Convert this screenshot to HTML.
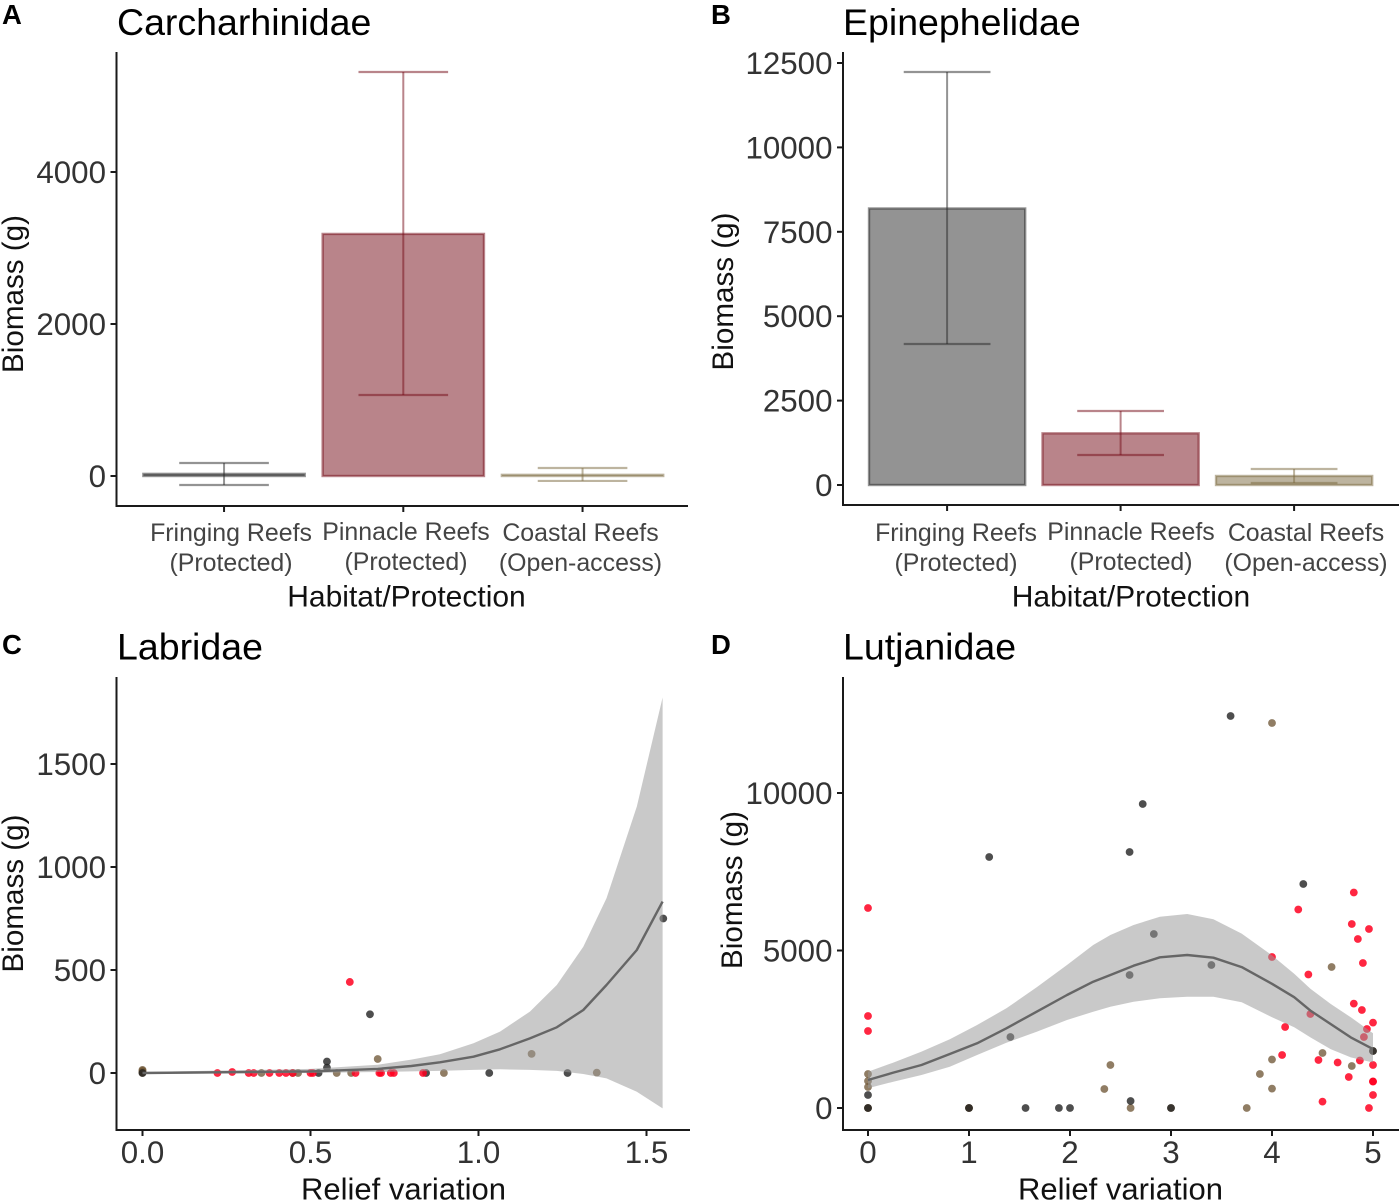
<!DOCTYPE html>
<html lang="en">
<head>
<meta charset="utf-8">
<title>Biomass by family</title>
<style>
html,body{margin:0;padding:0;background:#fff;width:1400px;height:1201px;overflow:hidden}
svg{display:block}
text{font-family:"Liberation Sans",Arial,sans-serif}
.title{font-size:37.5px;fill:#000}
.tag{font-size:27.5px;font-weight:bold;fill:#000}
.axt{font-size:30px;fill:#111}
.axr{font-size:31px;fill:#111}
.axy{font-size:29.6px;fill:#111}
.tick{font-size:31.3px;fill:#333}
.cat{font-size:24.9px;fill:#444;text-anchor:middle}
</style>
</head>
<body>
<svg id="fig" xmlns="http://www.w3.org/2000/svg" width="1400" height="1201" viewBox="0 0 1400 1201">
  <rect x="0" y="0" width="1400" height="1201" fill="#fff"/>
  <g id="marks-a"></g>
  <g id="marks-b"></g>
  <g id="marks-c"></g>
  <g id="marks-d"></g>

  <text class="tag" x="2" y="24">A</text>
  <text class="title" x="117" y="35">Carcharhinidae</text>
  <text class="axy" transform="translate(23,294) rotate(-90)" text-anchor="middle">Biomass (g)</text>
  <text class="axt" x="406.5" y="606.5" text-anchor="middle">Habitat/Protection</text>
  <text class="cat" x="231" y="541">Fringing Reefs</text>
  <text class="cat" x="231" y="571">(Protected)</text>
  <text class="cat" x="406" y="540">Pinnacle Reefs</text>
  <text class="cat" x="406" y="570">(Protected)</text>
  <text class="cat" x="580.5" y="541">Coastal Reefs</text>
  <text class="cat" x="580.5" y="571">(Open-access)</text>

  <text class="tag" x="711" y="24">B</text>
  <text class="title" x="843" y="35">Epinephelidae</text>
  <text class="axy" transform="translate(733,291.5) rotate(-90)" text-anchor="middle">Biomass (g)</text>
  <text class="axt" x="1131" y="606.5" text-anchor="middle">Habitat/Protection</text>
  <text class="cat" x="956" y="541">Fringing Reefs</text>
  <text class="cat" x="956" y="571">(Protected)</text>
  <text class="cat" x="1131" y="540">Pinnacle Reefs</text>
  <text class="cat" x="1131" y="570">(Protected)</text>
  <text class="cat" x="1306" y="541">Coastal Reefs</text>
  <text class="cat" x="1306" y="571">(Open-access)</text>

  <text class="tag" x="2" y="654">C</text>
  <text class="title" x="117" y="659.5">Labridae</text>
  <text class="axy" transform="translate(23,893.5) rotate(-90)" text-anchor="middle">Biomass (g)</text>
  <text class="axr" x="403.5" y="1199.5" text-anchor="middle">Relief variation</text>

  <text class="tag" x="711" y="654">D</text>
  <text class="title" x="843" y="659.5">Lutjanidae</text>
  <text class="axy" transform="translate(742,890) rotate(-90)" text-anchor="middle">Biomass (g)</text>
  <text class="axr" x="1120.5" y="1199.5" text-anchor="middle">Relief variation</text>
</svg>
<script>
// Panel A values
const habitats = ['Fringing', 'Pinnacle', 'Coastal'];
const aBiomass = [28, 3185, 15];
const aErrHigh = [171, 5316, 105];
const aErrLow = [-118, 1066, -65];
const aTicks = [0, 2000, 4000];

// Panel B values
const bBiomass = [8190, 1530, 267];
const bErrHigh = [12233, 2192, 474];
const bErrLow = [4177, 889, 59];
const bTicks = [0, 2500, 5000, 7500, 10000, 12500];

// Panel C values
const cRedX = [0.223, 0.267, 0.316, 0.331, 0.378, 0.407, 0.427, 0.447, 0.5, 0.507, 0.634, 0.705, 0.71, 0.739, 0.748, 0.835, 0.617];
const cRedY = [0, 5, 0, 0, 0, 0, 0, 0, 0, 0, 0, 0, 0, 0, 0, 0, 442];
const cDarkX = [0, 0.677, 0.549, 0.549, 0.524, 0.844, 1.032, 1.265, 1.55];
const cDarkY = [0, 285, 56, 26, 0, 0, 0, 0, 750];
const cTanX = [0, 0, 0, 0, 0.7, 1.158, 1.352, 0.354, 0.447, 0.463, 0.578, 0.621, 0.897];
const cTanY = [0, 5, 10, 15, 68, 93, 2, 0, 0, 0, 0, 0, 0];
const cFitX = [0, 0.5, 0.7, 0.8, 0.885, 0.985, 1.064, 1.153, 1.233, 1.312, 1.381, 1.471, 1.548];
const cFitY = [0, 8, 20, 34, 52, 79, 115, 168, 222, 306, 427, 597, 832];
const cUpper = [5, 20, 40, 65, 91, 144, 201, 298, 427, 613, 848, 1293, 1823];
const cLower = [-5, 0, 5, 8, 10, 15, 18, 15, 10, -5, -26, -91, -172];
const cXTicks = [0, 0.5, 1, 1.5];
const cYTicks = [0, 500, 1000, 1500];

// Panel D values
const dRedX = [4.81, 4.26, 4.79, 4.96, 4.85, 4.9, 4.36, 4.0, 4.81, 4.89, 5, 4.94, 4.91, 4.38, 4.13, 4.1, 4.46, 4.65, 4.87, 5, 4.76, 5, 5, 5, 4.5, 4.96, 0, 0, 0];
const dRedY = [6841, 6302, 5841, 5683, 5365, 4603, 4238, 4794, 3314, 3111, 2711, 2508, 2254, 2984, 2571, 1683, 1524, 1444, 1508, 1365, 984, 841, 841, 413, 203, 0, 6350, 2921, 2444];
const dDarkX = [4.31, 2.83, 3.4, 3.59, 2.72, 1.2, 2.59, 2.59, 1.41, 1.56, 1.89, 2.0, 2.6, 0, 0, 1, 3, 5];
const dDarkY = [7111, 5524, 4540, 12444, 9651, 7968, 8127, 4222, 2254, 0, 0, 0, 222, 413, 0, 0, 0, 1810];
const dTanX = [4.0, 4.59, 4.5, 4, 3.88, 4, 4.79, 5, 3, 3.75, 0, 0, 0, 0, 0, 1, 1, 2.6, 2.4, 2.34];
const dTanY = [12222, 4476, 1746, 1540, 1079, 616, 1333, 1810, 0, 0, 1079, 857, 667, 0, 0, 0, 0, 0, 1365, 603];
const dFitX = [0, 0.25, 0.53, 0.81, 1.08, 1.37, 1.67, 1.97, 2.23, 2.4, 2.63, 2.89, 3.16, 3.42, 3.7, 4, 4.22, 4.38, 4.58, 4.78, 5];
const dFitY = [889, 1125, 1365, 1714, 2053, 2529, 3058, 3587, 4010, 4222, 4518, 4783, 4857, 4772, 4473, 3942, 3517, 3092, 2667, 2242, 1870];
const dUpper = [1153, 1440, 1790, 2180, 2635, 3164, 3831, 4540, 5174, 5492, 5809, 6074, 6159, 5989, 5536, 4845, 4261, 3783, 3305, 2880, 2370];
const dLower = [624, 836, 1047, 1312, 1682, 2074, 2423, 2793, 3058, 3217, 3375, 3481, 3534, 3534, 3358, 2880, 2561, 2242, 1871, 1605, 1445];
const dXTicks = [0, 1, 2, 3, 4, 5];
const dYTicks = [0, 5000, 10000];

const NS = 'http://www.w3.org/2000/svg';
function linear(d0, d1, r0, r1) {
  return function (v) { return r0 + (v - d0) * (r1 - r0) / (d1 - d0); };
}
function mk(parent, tag, props, name) {
  const el = document.createElementNS(NS, tag);
  for (const k in props) el.setAttribute(k, props[k]);
  
  
  parent.appendChild(el);
  return el;
}
const AXIS = '#1a1a1a';
function axes(g, p, key) {
  mk(g, 'line', {x1: p.left, x2: p.left, y1: p.top, y2: p.bottom + 1, stroke: AXIS, 'stroke-width': 2}, key + '-y-axis-line');
  mk(g, 'line', {x1: p.left - 1, x2: p.right, y1: p.bottom, y2: p.bottom, stroke: AXIS, 'stroke-width': 2}, key + '-x-axis-line');
}
function yTicksDraw(g, p, ticks, y, key) {
  ticks.forEach(function (t) {
    mk(g, 'line', {x1: p.left - 6, x2: p.left, y1: y(t), y2: y(t), stroke: AXIS, 'stroke-width': 2}, key + '-y-tick');
    const label = mk(g, 'text', {class: 'tick', x: p.left - 10.5, y: y(t) + 11, 'text-anchor': 'end'}, key + '-y-tick-label');
    label.textContent = String(t);
  });
}
function xTicksDraw(g, p, ticks, x, key, digits) {
  ticks.forEach(function (t) {
    mk(g, 'line', {x1: x(t), x2: x(t), y1: p.bottom, y2: p.bottom + 6, stroke: AXIS, 'stroke-width': 2}, key + '-x-tick');
    const label = mk(g, 'text', {class: 'tick', x: x(t), y: p.bottom + 33, 'text-anchor': 'middle'}, key + '-x-tick-label');
    label.textContent = t.toFixed(digits);
  });
}

const barFill = ['#282828', '#730915', '#7b693f'];
function barPanel(g, p, vals, hi, lo, ticks, y, key) {
  const step = p.step;
  habitats.forEach(function (h, i) {
    const cx = p.left + step * (0.6 + i);
    const w = step * 0.9;
    const top = Math.min(y(vals[i]), y(0));
    const ht = Math.abs(y(vals[i]) - y(0));
    mk(g, 'rect', {x: cx - w / 2, y: top, width: w, height: ht, fill: barFill[i], 'fill-opacity': 0.5, stroke: barFill[i], 'stroke-opacity': 0.5, 'stroke-width': 2.4}, key + '-bar-' + h.toLowerCase());
    const wh = step * 0.25;
    const eg = mk(g, 'g', {stroke: barFill[i], 'stroke-opacity': 0.5, fill: 'none'}, key + '-error-bar-' + h.toLowerCase());
    mk(eg, 'line', {x1: cx, x2: cx, y1: y(hi[i]), y2: y(lo[i]), 'stroke-width': 2}, key + '-error-stem');
    mk(eg, 'line', {x1: cx - wh, x2: cx + wh, y1: y(hi[i]), y2: y(hi[i]), 'stroke-width': 2.2}, key + '-error-cap-high');
    mk(eg, 'line', {x1: cx - wh, x2: cx + wh, y1: y(lo[i]), y2: y(lo[i]), 'stroke-width': 2.2}, key + '-error-cap-low');
    mk(g, 'line', {x1: cx, x2: cx, y1: p.bottom, y2: p.bottom + 6, stroke: AXIS, 'stroke-width': 2}, key + '-x-tick');
  });
  axes(g, p, key);
  yTicksDraw(g, p, ticks, y, key);
}

function scatterPanel(g, p, x, y, s, key) {
  s.groups.forEach(function (gr) {
    const pg = mk(g, 'g', {fill: gr.color, 'fill-opacity': gr.alpha}, key + '-points-' + gr.label);
    gr.xs.forEach(function (v, i) {
      mk(pg, 'circle', {cx: x(v), cy: y(gr.ys[i]), r: 3.9}, key + '-point-' + gr.label);
    });
  });
  let up = '', dn = '', ln = '';
  s.fitX.forEach(function (v, i) {
    up += (i ? 'L' : 'M') + x(v).toFixed(1) + ' ' + y(s.upper[i]).toFixed(1);
    ln += (i ? 'L' : 'M') + x(v).toFixed(1) + ' ' + y(s.fitY[i]).toFixed(1);
  });
  for (let i = s.fitX.length - 1; i >= 0; i--) {
    dn += 'L' + x(s.fitX[i]).toFixed(1) + ' ' + y(s.lower[i]).toFixed(1);
  }
  mk(g, 'path', {d: up + dn + 'Z', fill: '#999', 'fill-opacity': 0.53}, key + '-confidence-ribbon');
  mk(g, 'path', {d: ln, fill: 'none', stroke: '#666', 'stroke-width': 2.4, 'stroke-linejoin': 'round'}, key + '-fit-line');
  axes(g, p, key);
}

const RED = '#ff0020', DARK = '#222', TAN = '#6b5230';

const pA = {left: 116.5, right: 688, top: 52, bottom: 506, step: 179.25};
const yA = linear(0, 4000, 476, 172);
barPanel(document.getElementById('marks-a'), pA, aBiomass, aErrHigh, aErrLow, aTicks, yA, 'panel-a');

const pB = {left: 843, right: 1399, top: 52, bottom: 505, step: 173.5};
const yB = linear(0, 12500, 485, 63);
barPanel(document.getElementById('marks-b'), pB, bBiomass, bErrHigh, bErrLow, bTicks, yB, 'panel-b');

const pC = {left: 116.5, right: 690, top: 677, bottom: 1130};
const xC = linear(0, 1.5, 142.5, 646.5);
const yC = linear(0, 1500, 1073, 764);
const gC = document.getElementById('marks-c');
scatterPanel(gC, pC, xC, yC, {
  groups: [
    {label: 'coastal', color: TAN, alpha: 0.75, xs: cTanX, ys: cTanY},
    {label: 'fringing', color: DARK, alpha: 0.8, xs: cDarkX, ys: cDarkY},
    {label: 'pinnacle', color: RED, alpha: 0.85, xs: cRedX, ys: cRedY}
  ], fitX: cFitX, fitY: cFitY, upper: cUpper, lower: cLower
}, 'panel-c');
xTicksDraw(gC, pC, cXTicks, xC, 'panel-c', 1);
yTicksDraw(gC, pC, cYTicks, yC, 'panel-c');

const pD = {left: 843, right: 1399, top: 677, bottom: 1130};
const xD = linear(0, 5, 868, 1373);
const yD = linear(0, 10000, 1108, 793);
const gD = document.getElementById('marks-d');
scatterPanel(gD, pD, xD, yD, {
  groups: [
    {label: 'coastal', color: TAN, alpha: 0.75, xs: dTanX, ys: dTanY},
    {label: 'fringing', color: DARK, alpha: 0.8, xs: dDarkX, ys: dDarkY},
    {label: 'pinnacle', color: RED, alpha: 0.85, xs: dRedX, ys: dRedY}
  ], fitX: dFitX, fitY: dFitY, upper: dUpper, lower: dLower
}, 'panel-d');
xTicksDraw(gD, pD, dXTicks, xD, 'panel-d', 0);
yTicksDraw(gD, pD, dYTicks, yD, 'panel-d');
</script>
</body>
</html>
